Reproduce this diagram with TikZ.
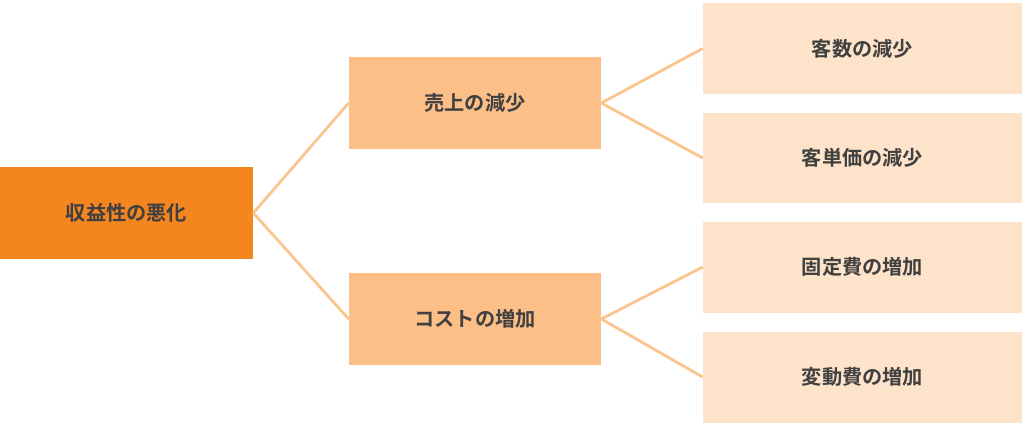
\documentclass[tikz,border=0pt]{standalone}
\usepackage{fontspec}
\newfontfamily\jpfont{Noto Sans CJK JP}[BoldFont={* Bold}]
\usetikzlibrary{positioning}
\definecolor{rootorange}{HTML}{F5861F}
\definecolor{midorange}{HTML}{FBBF87}
\definecolor{leaforange}{HTML}{FDE3C9}
\definecolor{linkorange}{HTML}{FAC58F}
\definecolor{labelgray}{HTML}{404040}
\begin{document}
\begin{tikzpicture}[x=0.02cm,y=-0.02cm]
    \tikzstyle{box}=[inner sep=0pt, text=labelgray, font=\jpfont\bfseries\fontsize{11.5pt}{14pt}\selectfont]
    \tikzstyle{rootbox}=[box, fill=rootorange, minimum width=5.06cm, minimum height=1.84cm]
    \tikzstyle{midbox}=[box, fill=midorange, minimum width=5.04cm, minimum height=1.84cm]
    \tikzstyle{leafbox}=[box, fill=leaforange, minimum width=6.38cm, minimum height=1.82cm]
    \tikzstyle{link}=[linkorange, line width=1.6pt]

    \useasboundingbox (0,0) rectangle (1024,427);

    % root
    \node[rootbox] (root) at (126.5,213) {収益性の悪化};

    % second level
    \node[midbox] (sales) at (475,103) {売上の減少};
    \node[midbox] (cost) at (475,319) {コストの増加};

    % leaves
    \node[leafbox] (cust) at (862.5,48.5) {客数の減少};
    \node[leafbox] (price) at (862.5,158) {客単価の減少};
    \node[leafbox] (fixed) at (862.5,267) {固定費の増加};
    \node[leafbox] (var) at (862.5,377) {変動費の増加};

    % connectors
    \draw[link] (root.east) -- (sales.west);
    \draw[link] (root.east) -- (cost.west);
    \draw[link] (sales.east) -- (cust.west);
    \draw[link] (sales.east) -- (price.west);
    \draw[link] (cost.east) -- (fixed.west);
    \draw[link] (cost.east) -- (var.west);
\end{tikzpicture}
\end{document}
